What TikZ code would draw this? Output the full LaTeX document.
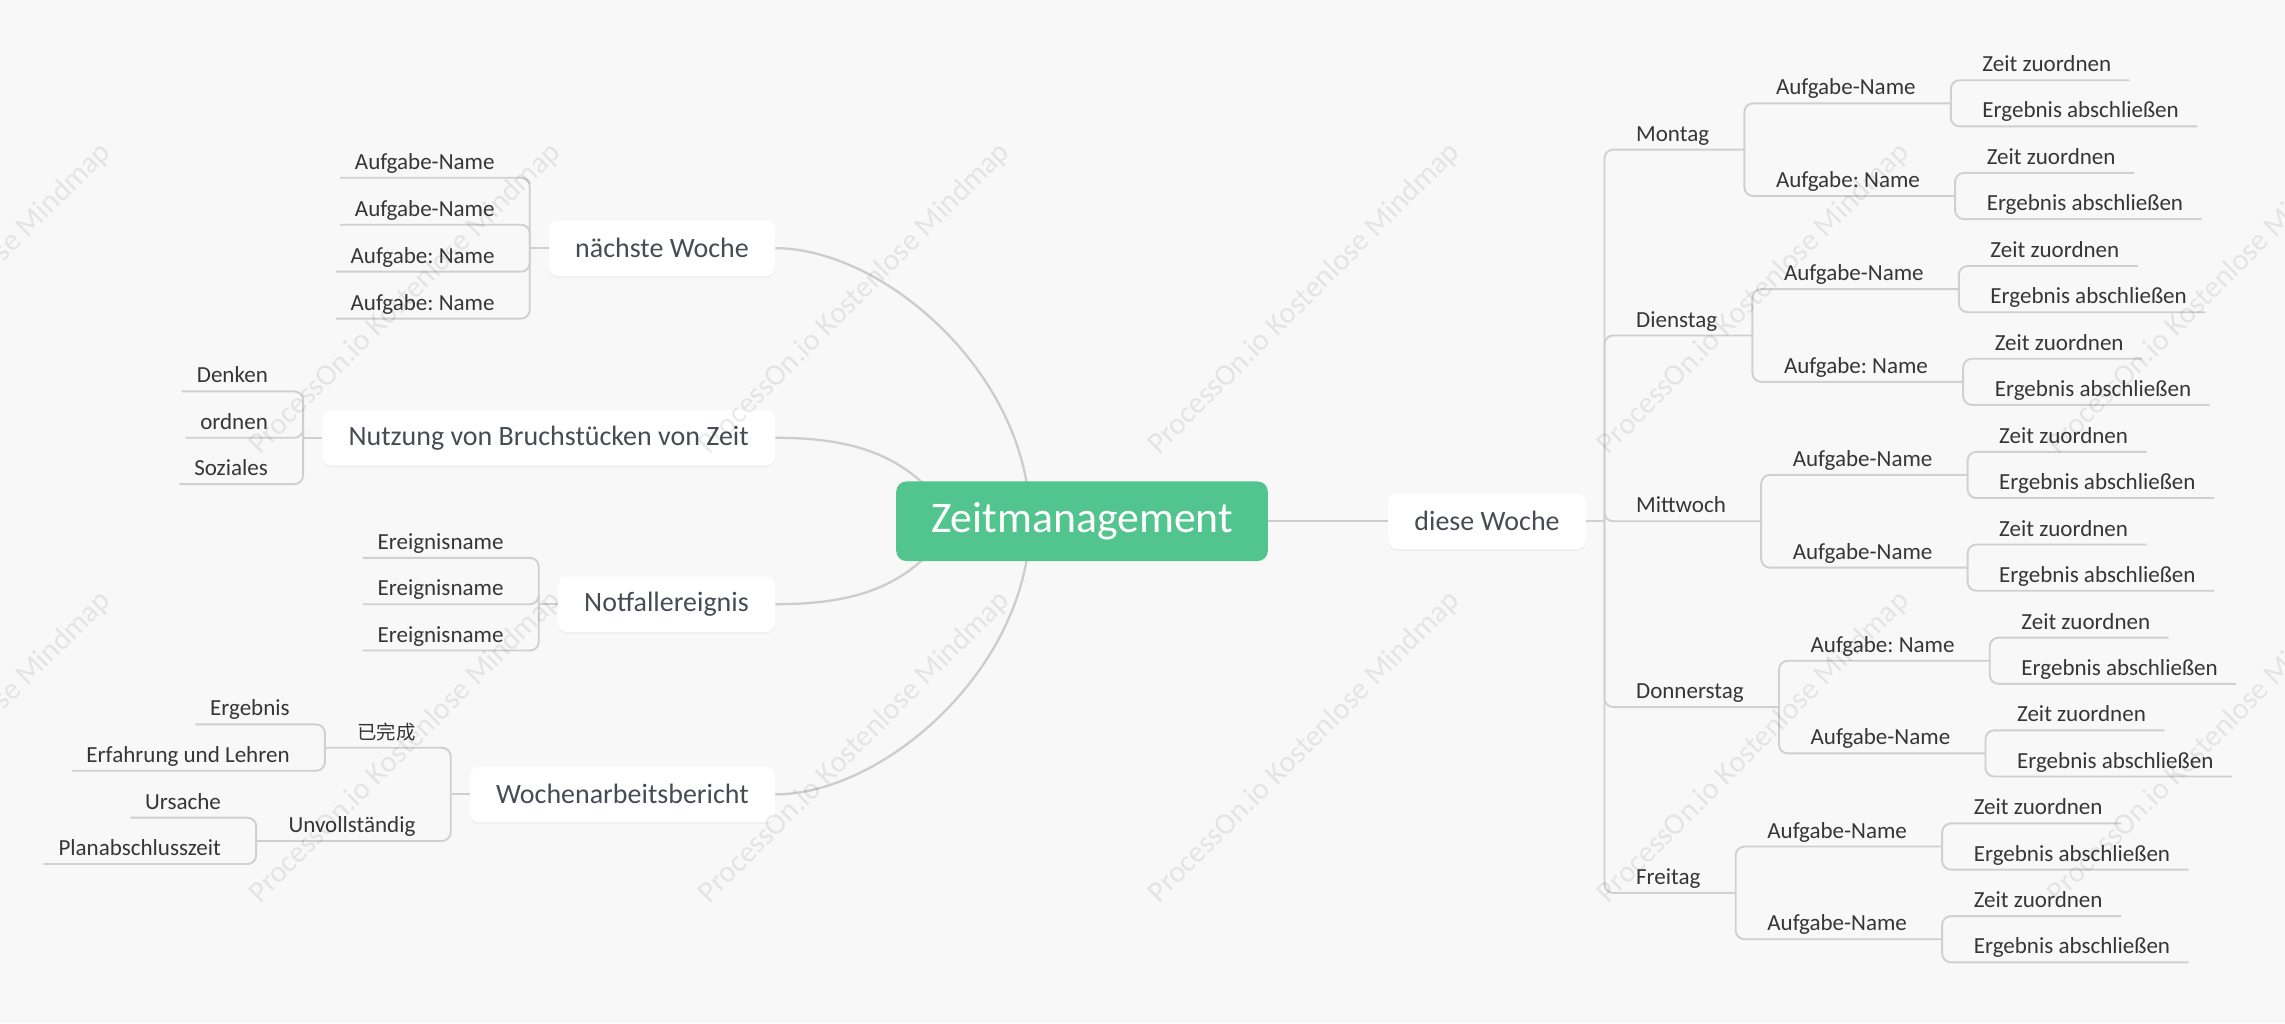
\documentclass[tikz,border=0pt]{standalone}
\usepackage{fontspec}
\setmainfont{Carlito}
\newfontfamily\cjkf{Noto Sans CJK SC}
\usetikzlibrary{calc,shadows}
\frenchspacing
\definecolor{bgc}{HTML}{F8F8F8}
\definecolor{lnc}{HTML}{D0D0D0}
\definecolor{crv}{HTML}{CDCDCD}
\definecolor{txc}{HTML}{363636}
\definecolor{lvc}{HTML}{474C54}
\definecolor{rootc}{HTML}{52C48D}
\pgfdeclarelayer{bg}
\pgfdeclarelayer{fg}
\pgfsetlayers{bg,main,fg}
\tikzset{
  ln/.style={draw=lnc, line width=1.3pt, rounded corners=6pt},
  crvs/.style={draw=crv, line width=1.6pt},
  sm/.style={font=\fontsize{15.8}{19}\selectfont, text=txc, inner sep=0pt},
  lvl/.style={font=\fontsize{19.2}{23}\selectfont, text=lvc, fill=white, rounded corners=6pt, inner xsep=18pt, inner ysep=0pt, minimum height=38pt, drop shadow={opacity=0.06, shadow xshift=0pt, shadow yshift=-1.5pt}},
  rootbox/.style={font=\fontsize{30}{36}\selectfont, text=white, fill=rootc, rounded corners=7pt, minimum width=255pt, minimum height=54.6pt, inner sep=0pt},
  wm/.style={font=\fontsize{20.8}{24}\selectfont, text=black, text opacity=0.08, rotate=45, inner sep=0pt},
}
% right side helpers
\newcommand\rleaf[4]{%
  \node[sm, anchor=base west] (#3) at ($(#1)+(21.5,#2-5.8)$) {#4};
  \draw[ln] (#1) |- ($(#3.base east)+(12.5,5.8)$);
}
\newcommand\rmid[4]{%
  \node[sm, anchor=base west] (#3) at ($(#1)+(21.5,#2-5.8)$) {#4};
  \coordinate (#3J) at ($(#3.base east)+(24,5.8)$);
  \draw[ln] (#1) |- (#3J);
}
\newcommand\rday[5]{%
  \rmid{T}{#2}{#1}{#3}
  \rmid{#1J}{-31.8}{#1a}{#4}
  \rmid{#1J}{31.8}{#1b}{#5}
  \rleaf{#1aJ}{-15.85}{#1a1}{Zeit zuordnen}
  \rleaf{#1aJ}{15.85}{#1a2}{Ergebnis abschließen}
  \rleaf{#1bJ}{-15.85}{#1b1}{Zeit zuordnen}
  \rleaf{#1bJ}{15.85}{#1b2}{Ergebnis abschließen}
}
% left side helpers
\newcommand\lleaf[4]{%
  \node[sm, anchor=base east] (#3) at ($(#1)+(-24,#2-5.8)$) {#4};
  \draw[ln] (#1) |- ($(#3.base west)+(-10,5.8)$);
}
\newcommand\lmid[4]{%
  \node[sm, anchor=base east] (#3) at ($(#1)+(-24,#2-5.8)$) {#4};
  \coordinate (#3J) at ($(#3.base west)+(-22,5.8)$);
  \draw[ln] (#1) |- (#3J);
}
\begin{document}
\begin{tikzpicture}[x=1pt,y=-1pt]
\useasboundingbox (0,0) rectangle (1568,702);
\begin{pgfonlayer}{bg}
\fill[bgc] (0,0) rectangle (1568,702);
\end{pgfonlayer}

% root and first level
\node[rootbox] (root) at (742.5,357.7) {Zeitmanagement};
\node[lvl, anchor=east] (nw) at (532,170.3) {nächste Woche};
\node[lvl, anchor=east] (nb) at (532,300.4) {Nutzung von Bruchstücken von Zeit};
\node[lvl, anchor=east] (nf) at (532,414.6) {Notfallereignis};
\node[lvl, anchor=east] (wa) at (532,545.1) {Wochenarbeitsbericht};
\node[lvl, anchor=west] (dw) at (952.4,357.7) {diese Woche};

\begin{pgfonlayer}{bg}
\draw[crvs] (nw.east) .. controls +(75,0) and +(0,-100) .. ($(root.center)+(-35.7,0)$);
\draw[crvs] (wa.east) .. controls +(75,0) and +(0,100) .. ($(root.center)+(-35.7,0)$);
\draw[crvs] (nb.east) .. controls +(53,0) and +(-25,-26) .. ($(root.center)+(-102.5,-19.7)$);
\draw[crvs] (nf.east) .. controls +(53,0) and +(-25,26) .. ($(root.center)+(-102.5,19.7)$);
\draw[crvs] (root.east) -- (dw.west);
\end{pgfonlayer}

% right tree
\coordinate (T) at ($(dw.east)+(12.6,0)$);
\draw[ln] (dw.east) -- (T);
\rday{mo}{-255}{Montag}{Aufgabe-Name}{Aufgabe: Name}
\rday{di}{-127.5}{Dienstag}{Aufgabe-Name}{Aufgabe: Name}
\rday{mi}{0}{Mittwoch}{Aufgabe-Name}{Aufgabe-Name}
\rday{do}{127.5}{Donnerstag}{Aufgabe: Name}{Aufgabe-Name}
\rday{fr}{255}{Freitag}{Aufgabe-Name}{Aufgabe-Name}

% left tree: naechste Woche
\coordinate (nwJ) at ($(nw.west)+(-13,0)$);
\draw[ln] (nw.west) -- (nwJ);
\lleaf{nwJ}{-48.3}{nw1}{Aufgabe-Name}
\lleaf{nwJ}{-16.1}{nw2}{Aufgabe-Name}
\lleaf{nwJ}{16.1}{nw3}{Aufgabe: Name}
\lleaf{nwJ}{48.3}{nw4}{Aufgabe: Name}

% Nutzung
\coordinate (nbJ) at ($(nb.west)+(-13,0)$);
\draw[ln] (nb.west) -- (nbJ);
\lleaf{nbJ}{-31.8}{nb1}{Denken}
\lleaf{nbJ}{0}{nb2}{ordnen}
\lleaf{nbJ}{31.8}{nb3}{Soziales}

% Notfallereignis
\coordinate (nfJ) at ($(nf.west)+(-13,0)$);
\draw[ln] (nf.west) -- (nfJ);
\lleaf{nfJ}{-31.8}{nf1}{Ereignisname}
\lleaf{nfJ}{0}{nf2}{Ereignisname}
\lleaf{nfJ}{31.8}{nf3}{Ereignisname}

% Wochenarbeitsbericht
\coordinate (waJ) at ($(wa.west)+(-13,0)$);
\draw[ln] (wa.west) -- (waJ);
\lmid{waJ}{-32}{wa1}{{\cjkf\fontsize{13.3}{16}\selectfont 已完成}}
\lmid{waJ}{32}{wa2}{Unvollständig}
\lleaf{wa1J}{-16}{wa11}{Ergebnis}
\lleaf{wa1J}{15.8}{wa12}{Erfahrung und Lehren}
\lleaf{wa2J}{-16}{wa21}{Ursache}
\lleaf{wa2J}{15.8}{wa22}{Planabschlusszeit}

% watermarks
\begin{pgfonlayer}{fg}
\foreach \x [count=\i] in {-30.5,278,586.5,895,1203.5,1512}
  \foreach \y [count=\j] in {205,513}
    \node[wm] (wm\i\j) at (\x,\y) {ProcessOn.io Kostenlose Mindmap};
\end{pgfonlayer}
\end{tikzpicture}
\end{document}
